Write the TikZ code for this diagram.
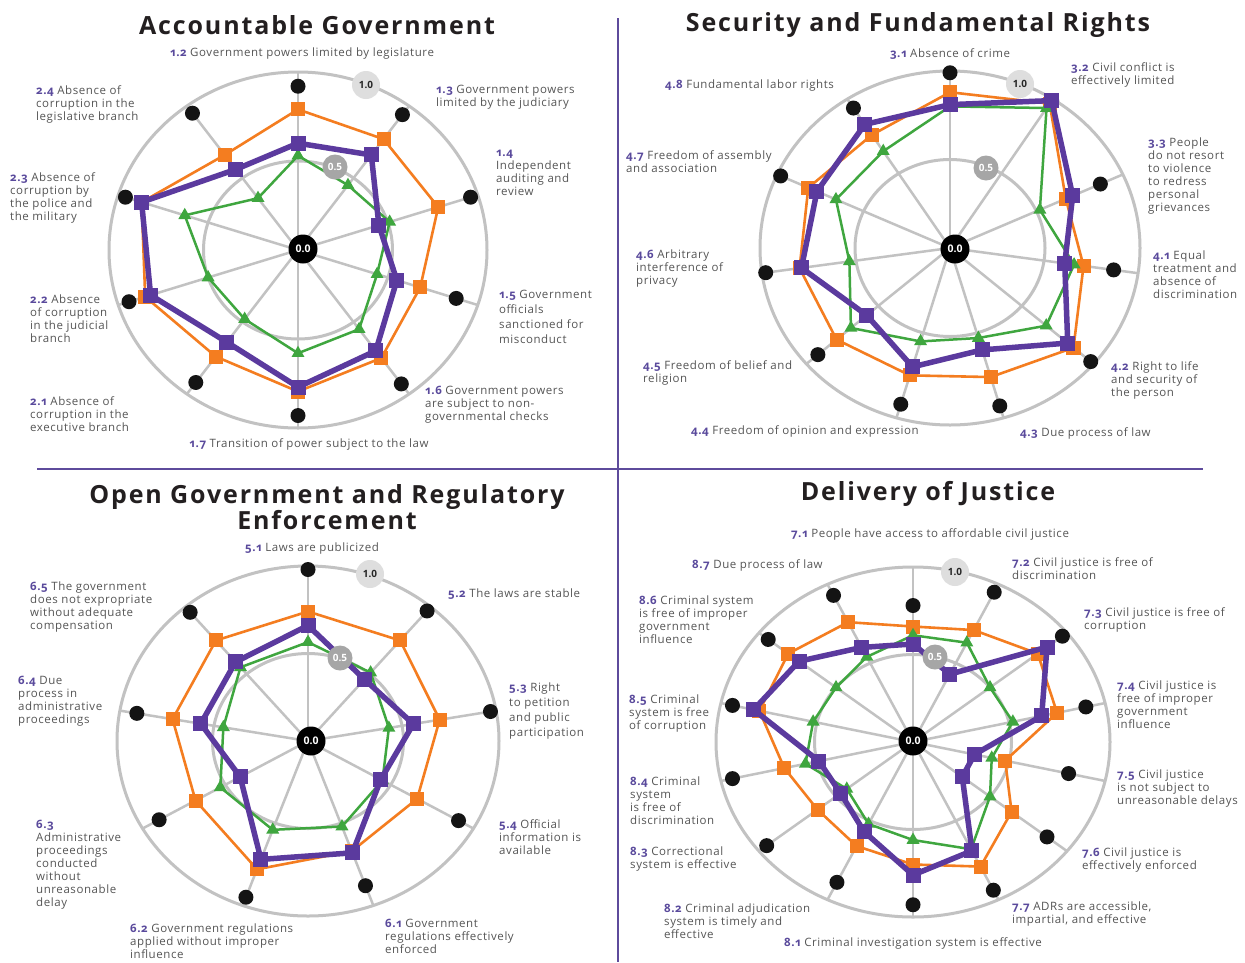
\documentclass[tikz,border=0pt]{standalone}
\usepackage{fontspec}
\setmainfont{Open Sans}[LetterSpace=5]
\newfontfamily\titlefont[LetterSpace=7.5]{Open Sans}
\newfontfamily\numfont[Numbers=OldStyle,LetterSpace=5]{Open Sans}
\newfontfamily\ringfont{Open Sans}
\usetikzlibrary{shapes.geometric}
\definecolor{orng}{HTML}{F47D20}
\definecolor{purp}{HTML}{5B3A9E}
\definecolor{grn}{HTML}{3FA63F}
\definecolor{ringgray}{HTML}{C2C2C2}
\definecolor{numpurp}{HTML}{5A4A9C}
\definecolor{txtgray}{HTML}{555555}
\definecolor{divpurp}{HTML}{5E4B9C}
\definecolor{ttlblack}{HTML}{231F20}
\newcommand\lnum[1]{{\numfont\bfseries\color{numpurp}#1}}
\tikzset{
  ring/.style={draw=ringgray, line width=3pt},
  spoke/.style={draw=ringgray, line width=2.5pt},
  oline/.style={draw=orng, line width=2.6pt, line join=round},
  gline/.style={draw=grn, line width=2.5pt, line join=round},
  pline/.style={draw=purp, line width=5.5pt, line join=round},
  osq/.style={rectangle, fill=orng, minimum size=14pt, inner sep=0pt},
  psq/.style={rectangle, fill=purp, minimum size=15pt, inner sep=0pt},
  gtri/.style={regular polygon, regular polygon sides=3, fill=grn, minimum size=15pt, inner sep=0pt},
  bdot/.style={circle, fill=black!92, minimum size=15pt, inner sep=0pt},
  lone/.style={circle, fill=black!13, text=black!85, minimum size=28pt, inner sep=0pt, font=\ringfont\bfseries\fontsize{10}{10}\selectfont},
  lhalf/.style={circle, fill=black!35, text=white, minimum size=25pt, inner sep=0pt, font=\ringfont\bfseries\fontsize{10}{10}\selectfont},
  lzero/.style={circle, fill=black, text=white, minimum size=29pt, inner sep=0pt, font=\ringfont\bfseries\fontsize{10.5}{10.5}\selectfont},
  lbl/.style={font=\fontsize{11.5}{13}\selectfont, text=txtgray, inner sep=0pt, align=left, anchor=north west},
  clbl/.style={font=\fontsize{11.5}{13}\selectfont, text=txtgray, inner sep=0pt, anchor=center},
  ttl/.style={font=\titlefont\bfseries\fontsize{25}{25}\selectfont, text=ttlblack, inner sep=0pt, align=center},
  divider/.style={draw=divpurp, line width=2.5pt}
}
\newcommand\rgrid[2]{%
  \coordinate (#1c) at (0,0);
  \draw[ring] (#1c) ellipse [x radius=1, y radius=1];
  \draw[ring] (#1c) ellipse [x radius=0.5, y radius=0.5];
  \pgfmathtruncatemacro\rlast{#2-1}%
  \foreach \k in {0,...,\rlast}{\coordinate (#1e\k) at ({90-\k*360/#2}:1); \draw[spoke] (#1c) -- (#1e\k);}
}
\newcommand\rdots[3]{%
  \foreach \v [count=\i from 0] in {#3}{\node[bdot] (#1\i) at ({90-\i*360/#2}:\v) {};}
}
\newcommand\rseries[5]{%
  \foreach \v [count=\i from 0] in {#3}{\coordinate (#1-\i) at ({90-\i*360/#2}:\v);}
  \pgfmathtruncatemacro\rlast{#2-1}%
  \draw[#4] (#1-0) \foreach \j in {1,...,\rlast}{ -- (#1-\j)} -- cycle;
  \foreach \j in {0,...,\rlast}{\node[#5] (#1m\j) at (#1-\j) {};}
}
\begin{document}
\begin{tikzpicture}[x=1pt, y=-1pt]
\useasboundingbox (0,0) rectangle (1245,962);
\fill[white] (0,0) rectangle (1245,962);

% dividers
\coordinate (vtop) at (618,18);
\coordinate (vbot) at (618,962);
\coordinate (hl) at (37,469);
\coordinate (hr) at (1203,469);
\draw[divider] (vtop) -- (vbot);
\draw[divider] (hl) -- (hr);

% titles
\node[ttl] (t1) at (317,25) {Accountable Government};
\node[ttl] (t2) at (918,25) {Security and Fundamental Rights};
\node[ttl] (t3) at (327,507) {Open Government and Regulatory\\Enforcement};
\node[ttl] (t4) at (928,494) {Delivery of Justice};

% ---------- chart 1
\begin{scope}[shift={(298,250)}, x=189pt, y=178pt]
\rgrid{a}{10}
\rdots{ab}{10}{0.92,0.94,0.96,0.88,0.93,0.93,0.92,0.94,0.96,0.95}
\rseries{ao}{10}{0.79,0.77,0.78,0.68,0.75,0.795,0.74,0.85,0.87,0.66}{oline}{osq}
\rseries{ag}{10}{0.53,0.45,0.51,0.44,0.55,0.58,0.48,0.50,0.63,0.36}{gline}{gtri}
\rseries{ap}{10}{0.60,0.66,0.45,0.55,0.70,0.77,0.64,0.82,0.87,0.56}{pline}{psq}
\end{scope}
\node[lzero] (a00) at (303,249) {0.0};
\node[lhalf] (a05) at (335,167) {0.5};
\node[lone] (a10) at (366,85) {1.0};

% ---------- chart 2
\begin{scope}[shift={(950,248)}, x=190pt, y=177pt]
\rgrid{b}{11}
\rdots{bb}{11}{0.99,0.99,0.87,0.87,0.98,0.93,0.92,0.92,0.98,0.98,0.94}
\rseries{bo}{11}{0.88,0.97,0.67,0.71,0.86,0.76,0.75,0.79,0.80,0.82,0.76}{oline}{osq}
\rseries{bg}{11}{0.80,0.94,0.52,0.66,0.67,0.53,0.55,0.69,0.535,0.66,0.65}{gline}{gtri}
\rseries{bp}{11}{0.81,0.99,0.71,0.61,0.82,0.60,0.70,0.58,0.79,0.77,0.83}{pline}{psq}
\end{scope}
\node[lzero] (b00) at (955,249) {0.0};
\node[lhalf] (b05) at (986,168) {0.5};
\node[lone] (b10) at (1020,84) {1.0};

% ---------- chart 3
\begin{scope}[shift={(308,741)}, x=191pt, y=175pt]
\rgrid{c}{9}
\rdots{cb}{9}{0.98,0.97,0.97,0.91,0.88,0.95,0.90,0.91,0.96}
\rseries{co}{9}{0.74,0.75,0.70,0.66,0.67,0.78,0.68,0.72,0.75}{oline}{osq}
\rseries{cg}{9}{0.565,0.51,0.43,0.45,0.52,0.54,0.53,0.45,0.55}{gline}{gtri}
\rseries{cp}{9}{0.66,0.46,0.56,0.44,0.68,0.72,0.41,0.57,0.59}{pline}{psq}
\end{scope}
\node[lzero] (c00) at (311,741) {0.0};
\node[lhalf] (c05) at (340,658) {0.5};
\node[lone] (c10) at (370,574) {1.0};

% ---------- chart 4
\begin{scope}[shift={(913,742)}, x=197pt, y=175pt]
\rgrid{d}{14}
\rdots{db}{14}{0.78,0.95,0.97,0.90,0.81,0.87,0.94,0.93,0.89,0.95,0.94,0.94,0.94,0.93}
\rseries{do}{14}{0.66,0.71,0.81,0.75,0.48,0.64,0.79,0.70,0.66,0.62,0.67,0.80,0.81,0.76}{oline}{osq}
\rseries{dg}{14}{0.61,0.63,0.50,0.52,0.41,0.50,0.68,0.56,0.52,0.43,0.56,0.52,0.50,0.54}{gline}{gtri}
\rseries{dp}{14}{0.56,0.43,0.87,0.67,0.32,0.32,0.69,0.76,0.57,0.47,0.49,0.83,0.74,0.60}{pline}{psq}
\end{scope}
\node[lzero] (d00) at (913,741) {0.0};
\node[lhalf] (d05) at (935,657) {0.5};
\node[lone] (d10) at (955,572) {1.0};

% ---------- labels chart 1
\node[clbl] (l12) at (302,54) {\lnum{1.2} Government powers limited by legislature};
\node[lbl] (l13) at (436,84.5) {\lnum{1.3} Government powers\\limited by the judiciary};
\node[lbl] (l14) at (496,149.5) {\lnum{1.4}\\Independent\\auditing and\\review};
\node[lbl] (l15) at (499,289.5) {\lnum{1.5} Government\\[2pt]officials\\[2pt]sanctioned for\\[2pt]misconduct};
\node[lbl] (l16) at (425,385.5) {\lnum{1.6} Government powers\\are subject to non-\\governmental checks};
\node[clbl] (l17) at (309,444) {\lnum{1.7} Transition of power subject to the law};
\node[lbl] (l21) at (30,396.5) {\lnum{2.1} Absence of\\corruption in the\\executive branch};
\node[lbl] (l22) at (30,294.5) {\lnum{2.2} Absence\\of corruption\\in the judicial\\branch};
\node[lbl] (l23) at (10,172.5) {\lnum{2.3} Absence of\\corruption by\\the police and\\the military};
\node[lbl] (l24) at (36,85.5) {\lnum{2.4} Absence of\\corruption in the\\legislative branch};

% ---------- labels chart 2
\node[clbl] (l31) at (950,54) {\lnum{3.1} Absence of crime};
\node[lbl] (l32) at (1071,62.5) {\lnum{3.2} Civil conflict is\\effectively limited};
\node[lbl] (l33) at (1148,137.5) {\lnum{3.3} People\\do not resort\\to violence\\to redress\\personal\\grievances};
\node[lbl] (l41) at (1153,250.5) {\lnum{4.1} Equal\\treatment and\\absence of\\discrimination};
\node[lbl] (l42) at (1111,361.5) {\lnum{4.2} Right to life\\and security of\\the person};
\node[lbl] (l43) at (1020,427.5) {\lnum{4.3} Due process of law};
\node[lbl] (l44) at (691,425.5) {\lnum{4.4} Freedom of opinion and expression};
\node[lbl] (l45) at (643,360.5) {\lnum{4.5} Freedom of belief and\\religion};
\node[lbl] (l46) at (636,249.5) {\lnum{4.6} Arbitrary\\interference of\\privacy};
\node[lbl] (l47) at (626,150.5) {\lnum{4.7} Freedom of assembly\\and association};
\node[lbl] (l48) at (665,79.5) {\lnum{4.8} Fundamental labor rights};

% ---------- labels chart 3
\node[clbl] (l51) at (312,549) {\lnum{5.1} Laws are publicized};
\node[lbl] (l52) at (448,588.5) {\lnum{5.2} The laws are stable};
\node[lbl] (l53) at (509,683) {\lnum{5.3} Right\\[2pt]to petition\\[2pt]and public\\[2pt]participation};
\node[lbl] (l54) at (499,819.5) {\lnum{5.4} Official\\information is\\available};
\node[lbl] (l61) at (385,918.5) {\lnum{6.1} Government\\regulations effectively\\enforced};
\node[lbl] (l62) at (130,923.5) {\lnum{6.2} Government regulations\\applied without improper\\influence};
\node[lbl] (l63) at (36,819.5) {\lnum{6.3}\\Administrative\\proceedings\\conducted\\without\\unreasonable\\delay};
\node[lbl] (l64) at (18,676) {\lnum{6.4} Due\\process in\\administrative\\proceedings};
\node[lbl] (l65) at (30,581.5) {\lnum{6.5} The government\\does not expropriate\\without adequate\\compensation};

% ---------- labels chart 4
\node[clbl] (l71) at (930,534) {\lnum{7.1} People have access to affordable civil justice};
\node[lbl] (l72) at (1012,557.5) {\lnum{7.2} Civil justice is free of\\discrimination};
\node[lbl] (l73) at (1084,607.5) {\lnum{7.3} Civil justice is free of\\corruption};
\node[lbl] (l74) at (1117,681) {\lnum{7.4} Civil justice is\\free of improper\\government\\influence};
\node[lbl] (l75) at (1117,770) {\lnum{7.5} Civil justice\\is not subject to\\unreasonable delays};
\node[lbl] (l76) at (1082,848) {\lnum{7.6} Civil justice is\\effectively enforced};
\node[lbl] (l77) at (1012,902) {\lnum{7.7} ADRs are accessible,\\impartial, and effective};
\node[clbl] (l81) at (913,943) {\lnum{8.1} Criminal investigation system is effective};
\node[lbl] (l82) at (664,904) {\lnum{8.2} Criminal adjudication\\system is timely and\\effective};
\node[lbl] (l83) at (630,847) {\lnum{8.3} Correctional\\system is effective};
\node[lbl] (l84) at (630,777) {\lnum{8.4} Criminal\\system\\is free of\\discrimination};
\node[lbl] (l85) at (629,694.5) {\lnum{8.5} Criminal\\system is free\\of corruption};
\node[lbl] (l86) at (639,596) {\lnum{8.6} Criminal system\\is free of improper\\government\\influence};
\node[lbl] (l87) at (692,559) {\lnum{8.7} Due process of law};
\end{tikzpicture}
\end{document}
